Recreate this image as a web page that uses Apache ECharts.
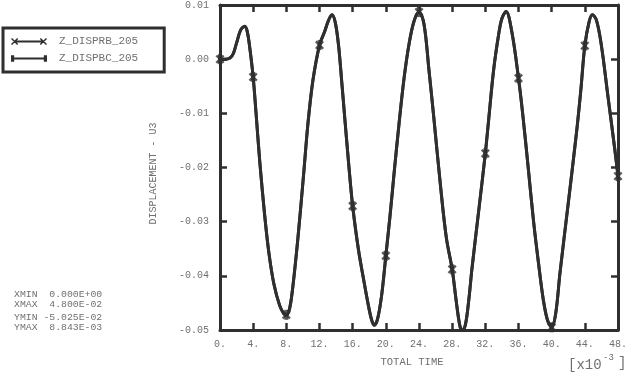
<!DOCTYPE html>
<html><head><meta charset="utf-8">
<script src="https://cdn.jsdelivr.net/npm/echarts@6/dist/echarts.min.js"></script>
<style>html,body{margin:0;padding:0;background:#fff}#c{width:630px;height:373px}</style>
</head><body><div id="c"></div>
<script>
// time in units of 1e-3
const times = [0,0.6,1.2,1.6,2.0,2.5,3.0,3.3,3.6,4.0,4.35,4.8,5.4,5.9,6.5,7.2,7.7,8.0,8.4,8.8,9.4,10.1,10.6,11.2,12.0,12.6,13.1,13.5,13.9,14.3,14.7,15.0,15.5,16.0,16.7,17.3,17.9,18.3,18.6,19.0,19.5,20.0,20.5,21.0,21.6,22.2,22.8,23.4,24.0,24.6,25.2,25.8,26.6,27.3,28.0,28.5,28.9,29.2,29.6,30.0,30.4,31.2,32.0,32.4,33.0,33.6,34.0,34.5,35.2,36.0,36.5,37.2,37.8,38.4,39.0,39.5,40.0,40.5,41.0,42.0,43.0,43.5,44.0,44.5,44.9,45.4,46.0,46.8,47.6,48.0];
const dispRB = [0.0000,0.0000,0.0002,0.0010,0.0030,0.0054,0.0061,0.0050,0.0020,-0.0033,-0.0100,-0.0190,-0.0290,-0.0358,-0.0415,-0.0455,-0.0470,-0.0472,-0.0460,-0.0418,-0.0330,-0.0210,-0.0120,-0.0040,0.0026,0.0050,0.0072,0.0082,0.0068,0.0025,-0.0045,-0.0100,-0.0190,-0.0271,-0.0352,-0.0405,-0.0455,-0.0482,-0.0491,-0.0480,-0.0435,-0.0363,-0.0290,-0.0210,-0.0118,-0.0035,0.0028,0.0070,0.0087,0.0065,-0.0020,-0.0110,-0.0235,-0.0330,-0.0388,-0.0448,-0.0490,-0.0502,-0.0490,-0.0445,-0.0385,-0.0280,-0.0174,-0.0112,-0.0020,0.0045,0.0075,0.0088,0.0050,-0.0035,-0.0100,-0.0205,-0.0297,-0.0375,-0.0445,-0.0482,-0.0495,-0.0468,-0.0395,-0.0266,-0.0135,-0.0060,0.0025,0.0068,0.0082,0.0072,0.0025,-0.0070,-0.0165,-0.0216];
// second curve coincides with the first in the picture
const dispBC = dispRB;
const markerTimes = [0,4,8,12,16,20,24,28,32,36,40,44,48];
const statsLines = ['XMIN  0.000E+00','XMAX  4.800E-02','YMIN -5.025E-02','YMAX  8.843E-03'];
const statsY = [294,304,317,327];

const MONO = '"Liberation Mono", "DejaVu Sans Mono", monospace';
const DARK = '#2f2f2f';
const GREY = '#707070';

const lineRB = times.map((t,i)=>[t,dispRB[i]]);
const lineBC = times.map((t,i)=>[t,dispBC[i]]);
const markRB = markerTimes.map(t=>[t,dispRB[times.indexOf(t)]]);
const markBC = markerTimes.map(t=>[t,dispBC[times.indexOf(t)]]);

const xSym = 'path://M0,1.5 L1.5,0 L8,6.5 L6.5,8 Z M0,6.5 L6.5,0 L8,1.5 L1.5,8 Z';
const barSym = 'path://M0,0 L3,0 L3,9 L0,9 Z';
const iconRB = 'path://M4,3 L32,3 L32,5 L4,5 Z M0.5,1.5 L1.5,0.5 L7.5,6.5 L6.5,7.5 Z M0.5,6.5 L6.5,0.5 L7.5,1.5 L1.5,7.5 Z M28.5,1.5 L29.5,0.5 L35.5,6.5 L34.5,7.5 Z M28.5,6.5 L34.5,0.5 L35.5,1.5 L29.5,7.5 Z';
const iconBC = 'path://M2,3 L34,3 L34,5 L2,5 Z M1,1 L4,1 L4,7 L1,7 Z M32,1 L35,1 L35,7 L32,7 Z';

const axisLine = {show:true, onZero:false, lineStyle:{color:DARK, width:3}};
const axisTick = {show:true, inside:true, length:7, lineStyle:{color:DARK, width:2.5}};

const graphics = statsLines.map((s,i)=>({type:'text', style:{text:s, x:14, y:statsY[i], verticalAlign:'middle', fill:GREY, font:'9.8px '+MONO}}));
graphics.push({type:'text', style:{text:'[x10', x:568, y:365, verticalAlign:'middle', fill:GREY, font:'14px '+MONO}});
graphics.push({type:'text', style:{text:'-3', x:603, y:358, verticalAlign:'middle', fill:GREY, font:'9px '+MONO}});
graphics.push({type:'text', style:{text:']', x:618, y:363, verticalAlign:'middle', fill:GREY, font:'14px '+MONO}});

const chart = echarts.init(document.getElementById('c'), null, {renderer:'canvas'});
chart.setOption({
  animation:false,
  color:[DARK],
  grid:{left:220, right:10, top:4, bottom:43, containLabel:false},
  legend:{
    left:3, top:28, orient:'vertical', itemWidth:36, itemHeight:8, itemGap:6,
    borderColor:DARK, borderWidth:3, padding:[8,26,8,8], backgroundColor:'#fff',
    textStyle:{fontFamily:MONO, fontSize:11, color:GREY, padding:[0,0,0,7]},
    data:[{name:'Z_DISPRB_205', icon:iconRB},{name:'Z_DISPBC_205', icon:iconBC}]
  },
  xAxis:[
    {type:'value', min:0, max:48, interval:4, position:'bottom',
     axisLine, axisTick, splitLine:{show:false},
     axisLabel:{color:GREY, fontFamily:MONO, fontSize:10, margin:9, formatter:v=>v+'.'},
     name:'TOTAL TIME', nameLocation:'middle', nameGap:27,
     nameTextStyle:{color:GREY, fontFamily:MONO, fontSize:10.5, padding:[0,14,0,0]}},
    {type:'value', min:0, max:48, interval:4, position:'top',
     axisLine, axisTick, splitLine:{show:false}, axisLabel:{show:false}}
  ],
  yAxis:[
    {type:'value', min:-0.05, max:0.01, interval:0.01, position:'left',
     axisLine, axisTick, splitLine:{show:false},
     axisLabel:{color:GREY, fontFamily:MONO, fontSize:10, margin:11, formatter:v=>v.toFixed(2)},
     name:'DISPLACEMENT - U3', nameLocation:'middle', nameGap:62, nameRotate:90,
     nameTextStyle:{color:GREY, fontFamily:MONO, fontSize:10, padding:[0,12,0,0]}},
    {type:'value', min:-0.05, max:0.01, interval:0.01, position:'right',
     axisLine, axisTick, splitLine:{show:false}, axisLabel:{show:false}}
  ],
  series:[
    {name:'Z_DISPBC_205', type:'line', data:lineBC, smooth:0.35, showSymbol:false, z:2,
     lineStyle:{color:DARK, width:3}, itemStyle:{color:DARK}},
    {name:'Z_DISPRB_205', type:'line', data:lineRB, smooth:0.35, showSymbol:false, z:3,
     lineStyle:{color:DARK, width:3}, itemStyle:{color:DARK}},
    {name:'Z_DISPBC_205', type:'scatter', data:markBC, symbol:barSym, symbolSize:[4,10], z:4,
     itemStyle:{color:DARK}},
    {name:'Z_DISPRB_205', type:'scatter', data:markRB, symbol:xSym, symbolSize:9, z:5,
     itemStyle:{color:DARK}}
  ],
  graphic:graphics
});
</script></body></html>
